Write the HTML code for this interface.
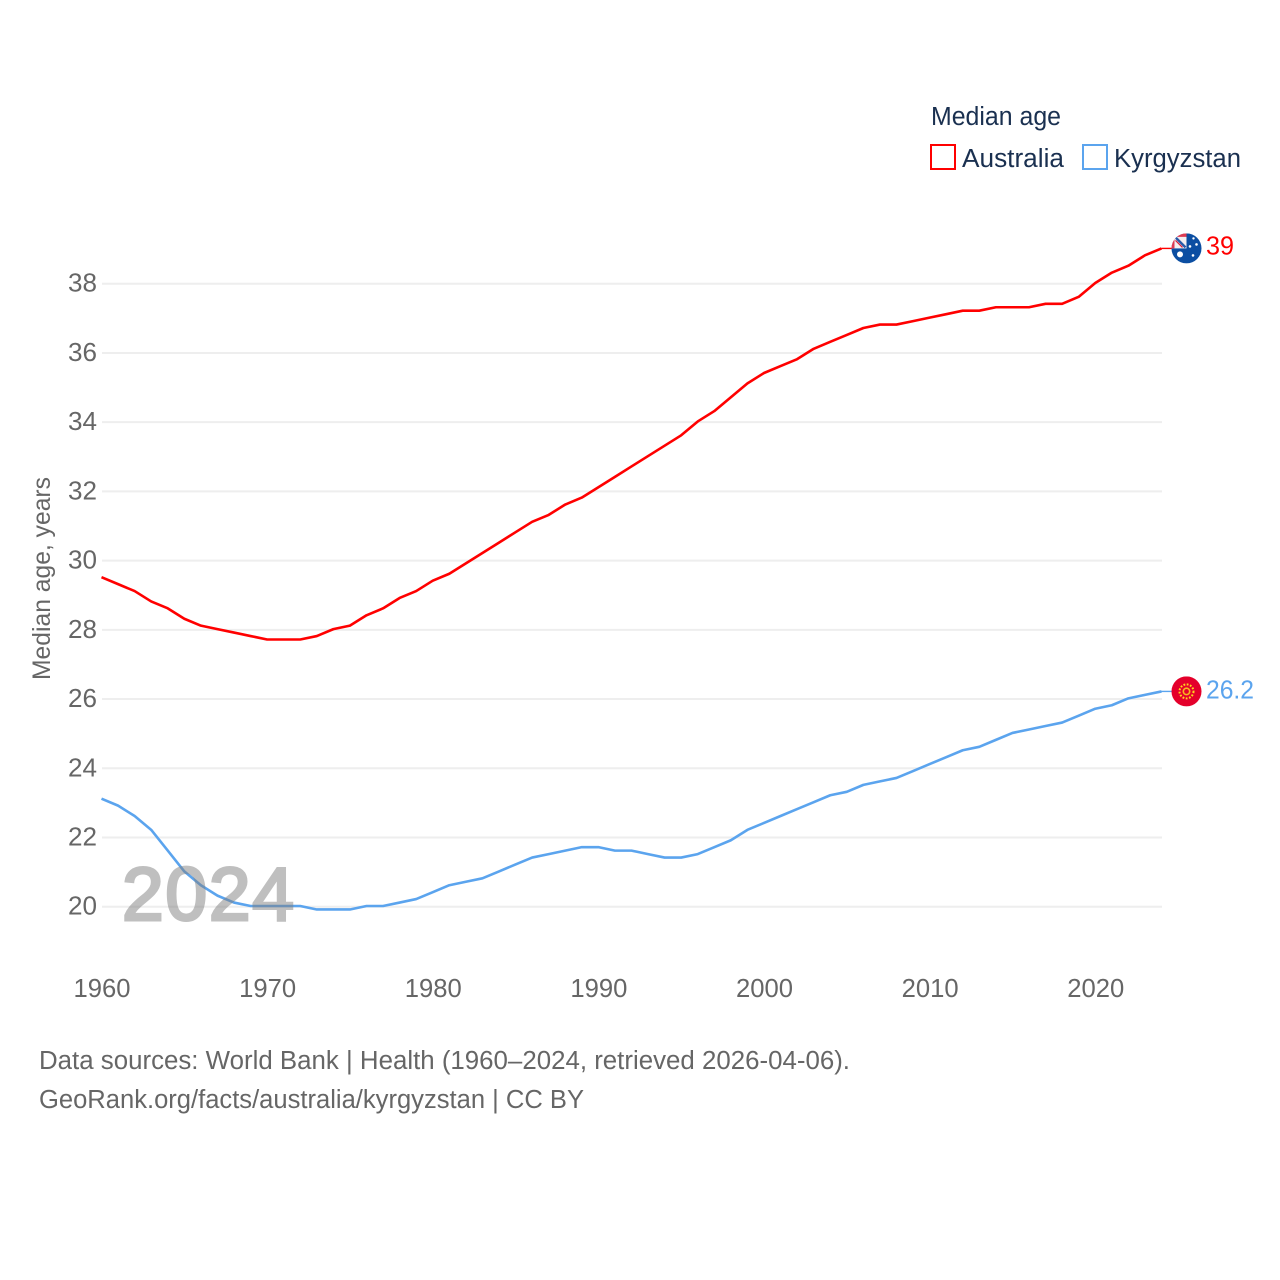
<!DOCTYPE html>
<html lang="en">
<head>
<meta charset="utf-8">
<title>Median age: Australia and Kyrgyzstan</title>
<style>
html,body{margin:0;padding:0;background:#fff;}
svg{display:block;}
text{font-family:"Liberation Sans",sans-serif;}
</style>
</head>
<body>
<svg id="chart" width="1280" height="1280" viewBox="0 0 1280 1280" xmlns="http://www.w3.org/2000/svg">
  <rect width="1280" height="1280" fill="#fff"/>
  <g id="grid"></g>
  <g id="yticks"></g>
  <g id="xticks"></g>
  <text transform="translate(50,680) rotate(-90)" font-size="25" fill="#666" textLength="203" lengthAdjust="spacingAndGlyphs">Median age, years</text>
  <g id="series"></g>
  <text x="122" y="920" font-size="75" fill="#808080" stroke="#808080" stroke-width="3" opacity="0.5" textLength="172" lengthAdjust="spacing">2024</text>

  <g>
    <text x="931" y="125" font-size="25.5" fill="#1a3050" textLength="130" lengthAdjust="spacingAndGlyphs">Median age</text>
    <rect x="931" y="145" width="24" height="24" fill="none" stroke="#ff0000" stroke-width="2"/>
    <text x="962" y="167" font-size="25.5" fill="#1a3050" textLength="102" lengthAdjust="spacingAndGlyphs">Australia</text>
    <rect x="1083" y="145" width="24" height="24" fill="none" stroke="#5ba4ee" stroke-width="2"/>
    <text x="1114" y="167" font-size="25.5" fill="#1a3050" textLength="127" lengthAdjust="spacingAndGlyphs">Kyrgyzstan</text>
  </g>

  <defs>
    <clipPath id="flag-clip"><circle cx="0" cy="0" r="15"/></clipPath>
  </defs>
  <g id="flag-au">
    <g clip-path="url(#flag-clip)">
      <rect x="-15" y="-15" width="30" height="30" fill="#0b4ea2"/>
      <rect x="-15" y="-15" width="15" height="15" fill="#f3eef0"/>
      <path d="M-15 -15 H0 V-11.5 H-12 V0 H-15 Z" fill="#dd3a52"/>
      <path d="M-11 -11 L-1 -1" stroke="#2a5aa8" stroke-width="2.4"/>
      <path d="M-11 -8 L-4 -1" stroke="#d8213c" stroke-width="1.2"/>
      <circle cx="-6.5" cy="6" r="3" fill="#fff"/>
      <circle cx="3.5" cy="-2" r="1.3" fill="#fff"/>
      <circle cx="10" cy="-4" r="1.3" fill="#fff"/>
      <circle cx="7" cy="-10" r="1.2" fill="#fff"/>
      <circle cx="6.5" cy="7" r="1.3" fill="#fff"/>
    </g>
  </g>
  <g id="flag-kg">
    <g clip-path="url(#flag-clip)">
      <rect x="-15" y="-15" width="30" height="30" fill="#e4002b"/>
      <circle cx="0" cy="0" r="7" fill="none" stroke="#ffd21f" stroke-width="2" stroke-dasharray="1.8 1.5"/>
      <circle cx="0" cy="0" r="4" fill="#f7b51e"/>
      <circle cx="0" cy="0" r="2.4" fill="#e4002b"/>
    </g>
  </g>
  <g id="end-labels"></g>

  <g>
    <text x="39" y="1069" font-size="25.5" fill="#666" textLength="811" lengthAdjust="spacingAndGlyphs">Data sources: World Bank | Health (1960–2024, retrieved 2026-04-06).</text>
    <text x="39" y="1108" font-size="25.5" fill="#666" textLength="545" lengthAdjust="spacingAndGlyphs">GeoRank.org/facts/australia/kyrgyzstan | CC BY</text>
  </g>
</svg>
<script>
const startYear = 1960;
const xTickLabels = [1960, 1970, 1980, 1990, 2000, 2010, 2020];
const yTickLabels = [20, 22, 24, 26, 28, 30, 32, 34, 36, 38];
const australiaValues = [29.5,29.3,29.1,28.8,28.6,28.3,28.1,28.0,27.9,27.8,27.7,27.7,27.7,27.8,28.0,28.1,28.4,28.6,28.9,29.1,29.4,29.6,29.9,30.2,30.5,30.8,31.1,31.3,31.6,31.8,32.1,32.4,32.7,33.0,33.3,33.6,34.0,34.3,34.7,35.1,35.4,35.6,35.8,36.1,36.3,36.5,36.7,36.8,36.8,36.9,37.0,37.1,37.2,37.2,37.3,37.3,37.3,37.4,37.4,37.6,38.0,38.3,38.5,38.8,39.0];
const kyrgyzstanValues = [23.1,22.9,22.6,22.2,21.6,21.0,20.6,20.3,20.1,20.0,20.0,20.0,20.0,19.9,19.9,19.9,20.0,20.0,20.1,20.2,20.4,20.6,20.7,20.8,21.0,21.2,21.4,21.5,21.6,21.7,21.7,21.6,21.6,21.5,21.4,21.4,21.5,21.7,21.9,22.2,22.4,22.6,22.8,23.0,23.2,23.3,23.5,23.6,23.7,23.9,24.1,24.3,24.5,24.6,24.8,25.0,25.1,25.2,25.3,25.5,25.7,25.8,26.0,26.1,26.2];

const NS = 'http://www.w3.org/2000/svg';
const xScale = year => 101.5 + (year - 1960) * 16.5625;
const yScale = value => 906.7 - (value - 20) * 34.61;
const lineY = value => yScale(value) - 0.7;

function make(parent, tag, attrs, content) {
  const el = document.createElementNS(NS, tag);
  Object.keys(attrs).forEach(k => el.setAttribute(k, attrs[k]));
  if (content !== undefined) el.textContent = content;
  parent.appendChild(el);
  return el;
}

const gridGroup = document.getElementById('grid');
const yGroup = document.getElementById('yticks');
yTickLabels.forEach(v => {
  const line = make(gridGroup, 'line', {x1: 102, x2: 1162, y1: yScale(v), y2: yScale(v), stroke: '#eeeeee', 'stroke-width': 2});
  
  
  const label = make(yGroup, 'text', {x: 97, y: yScale(v) + 8, 'text-anchor': 'end', 'font-size': 25.5, fill: '#666', textLength: 29, lengthAdjust: 'spacingAndGlyphs'}, String(v));
  
  
});

const xGroup = document.getElementById('xticks');
xTickLabels.forEach(y => {
  const label = make(xGroup, 'text', {x: xScale(y) + 0.5, y: 997, 'text-anchor': 'middle', 'font-size': 25.5, fill: '#666', textLength: 57, lengthAdjust: 'spacingAndGlyphs'}, String(y));
  
  
});

const pathFor = values => values.map((v, i) => (i ? 'L' : 'M') + xScale(startYear + i).toFixed(2) + ' ' + lineY(v).toFixed(2)).join(' ');
const seriesGroup = document.getElementById('series');
const lineAu = make(seriesGroup, 'path', {d: pathFor(australiaValues), fill: 'none', stroke: '#ff0000', 'stroke-width': 2.6, 'stroke-linejoin': 'round'});


const lineKg = make(seriesGroup, 'path', {d: pathFor(kyrgyzstanValues), fill: 'none', stroke: '#5ba4ee', 'stroke-width': 2.6, 'stroke-linejoin': 'round'});



const lastAu = australiaValues[australiaValues.length - 1];
const lastKg = kyrgyzstanValues[kyrgyzstanValues.length - 1];
const endX = xScale(startYear + australiaValues.length - 1);
const connAu = make(seriesGroup, 'line', {x1: endX, x2: endX + 12, y1: lineY(lastAu), y2: lineY(lastAu), stroke: '#ff0000', 'stroke-width': 1.4});


const connKg = make(seriesGroup, 'line', {x1: endX, x2: endX + 12, y1: lineY(lastKg), y2: lineY(lastKg), stroke: '#5ba4ee', 'stroke-width': 1.4});



document.getElementById('flag-au').setAttribute('transform', 'translate(1186.5,' + lineY(lastAu) + ')');
document.getElementById('flag-kg').setAttribute('transform', 'translate(1186.5,' + lineY(lastKg) + ')');

const endGroup = document.getElementById('end-labels');
const endAu = make(endGroup, 'text', {x: 1206, y: lineY(lastAu) + 6, 'font-size': 25.5, fill: '#ff0000', textLength: 28, lengthAdjust: 'spacingAndGlyphs'}, String(lastAu));


const endKg = make(endGroup, 'text', {x: 1206, y: lineY(lastKg) + 7, 'font-size': 25.5, fill: '#5ba4ee', textLength: 48, lengthAdjust: 'spacingAndGlyphs'}, String(lastKg));


</script>
</body>
</html>
